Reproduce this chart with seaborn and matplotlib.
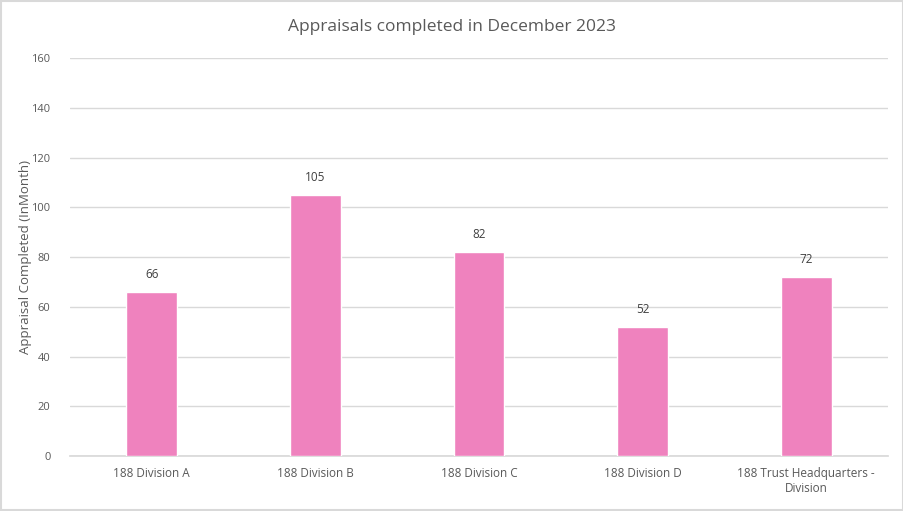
import matplotlib
matplotlib.use("Agg")
import matplotlib.pyplot as plt
import seaborn as sns
import pandas as pd

categories = ["188 Division A", "188 Division B", "188 Division C",
              "188 Division D", "188 Trust Headquarters -\nDivision"]
completed = [66, 105, 82, 52, 72]
yticks = [0, 20, 40, 60, 80, 100, 120, 140, 160]

sns.set_theme(style="white")
plt.rcParams['font.family'] = ['Open Sans', 'DejaVu Sans']

df = pd.DataFrame({"category": categories, "completed": completed})

fig = plt.figure(figsize=(9.04, 5.11), dpi=100)
ax = fig.add_axes([0.0774, 0.1076, 0.9049, 0.7789])

sns.barplot(data=df, x="category", y="completed", color="#EF82BE",
            saturation=1, width=0.31, ax=ax, zorder=3)

ax.set_ylim(0, 160)
ax.set_yticks(yticks)
ax.set_xlim(-0.5, len(categories) - 0.5)
ax.yaxis.grid(True, color="#D9D9D9", linewidth=1, zorder=0)
ax.set_axisbelow(True)
for s in ["top", "right", "left"]:
    ax.spines[s].set_visible(False)
ax.spines["bottom"].set_color("#D9D9D9")
ax.tick_params(axis="both", length=0, labelsize=8.5, colors="#595959", pad=8)
ax.tick_params(axis="y", labelsize=8, pad=14)

for i, v in enumerate(completed):
    ax.annotate(str(v), (i, v), xytext=(0, 8), textcoords="offset points",
                ha="center", va="bottom", fontsize=8.5, color="#404040")

ax.set_xlabel("")
ax.set_ylabel("Appraisal Completed (InMonth)", fontsize=9.5, color="#595959")
ax.yaxis.set_label_coords(-0.047, 0.5)
fig.suptitle("Appraisals completed in December 2023", y=0.962, fontsize=12.5,
             color="#595959")

border = plt.Rectangle((0.001, 0.001), 0.998, 0.998, transform=fig.transFigure,
                       fill=False, edgecolor="#D9D9D9", linewidth=1.5)
fig.patches.append(border)

fig.savefig("out.png", dpi=100)
